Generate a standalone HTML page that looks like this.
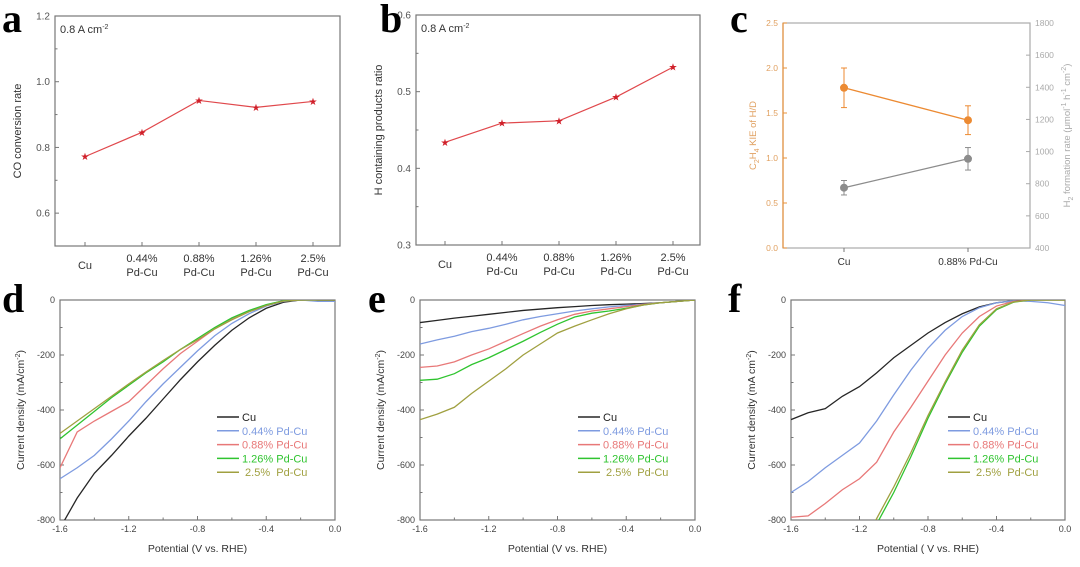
<!DOCTYPE html>
<html><head><meta charset="utf-8"><style>
html,body{margin:0;padding:0;background:#fff;width:1080px;height:567px;overflow:hidden}
svg{font-family:"Liberation Sans",sans-serif;display:block}
.pl{font-family:"Liberation Serif",serif;font-weight:bold;font-size:40px}
.pre{white-space:pre}
</style></head><body>
<svg id="fig" width="1080" height="567" viewBox="0 0 1080 567" overflow="hidden"></svg>
<script>
const catsAB = ["Cu","0.44%|Pd-Cu","0.88%|Pd-Cu","1.26%|Pd-Cu","2.5%|Pd-Cu"];
const coRate = [0.772,0.846,0.943,0.922,0.940];
const hRatio = [0.434,0.459,0.462,0.493,0.532];
const catsC = ["Cu","0.88% Pd-Cu"];
const kie = [1.78,1.42];
const kieErr = [0.22,0.16];
const h2Rate = [775,955];
const h2Err = [45,70];
const potentials = [-1.6,-1.5,-1.4,-1.3,-1.2,-1.1,-1.0,-0.9,-0.8,-0.7,-0.6,-0.5,-0.4,-0.3,-0.2,-0.1,0];
const seriesNames = ["Cu","0.44% Pd-Cu","0.88% Pd-Cu","1.26% Pd-Cu"," 2.5%  Pd-Cu"];
const dCu=[-830,-720,-630,-565,-495,-430,-360,-290,-225,-165,-110,-65,-30,-8,0,-2,-3];
const d044=[-650,-610,-565,-505,-440,-370,-305,-245,-185,-130,-85,-50,-22,-5,0,-5,-5];
const d088=[-610,-480,-440,-405,-370,-310,-250,-195,-150,-105,-70,-40,-18,-3,0,0,0];
const d126=[-505,-455,-405,-355,-310,-265,-225,-180,-140,-100,-65,-38,-17,-3,0,0,0];
const d25=[-485,-440,-395,-350,-305,-262,-220,-180,-145,-105,-72,-43,-20,-4,0,0,0];
const eCu=[-82,-74,-66,-59,-52,-45,-38,-33,-28,-24,-20,-17,-15,-13,-10,-5,0];
const e044=[-160,-145,-132,-115,-103,-88,-72,-60,-50,-40,-32,-25,-20,-15,-10,-5,0];
const e088=[-245,-240,-225,-200,-178,-150,-122,-95,-72,-52,-40,-32,-24,-16,-10,-5,0];
const e126=[-292,-288,-268,-235,-210,-180,-150,-118,-88,-62,-48,-40,-30,-18,-10,-5,0];
const e25=[-435,-415,-390,-340,-295,-250,-200,-160,-120,-95,-72,-50,-32,-18,-10,-5,0];
const fCu=[-435,-410,-395,-350,-315,-265,-210,-165,-120,-82,-50,-25,-10,-3,0,0,0];
const f044=[-700,-660,-610,-565,-520,-440,-345,-255,-175,-110,-60,-28,-10,-3,-5,-10,-20];
const f088=[-790,-785,-740,-690,-650,-590,-480,-390,-295,-200,-120,-60,-22,-5,0,0,0];
const f126=[-1400,-1280,-1160,-1040,-925,-815,-700,-570,-430,-305,-190,-95,-35,-8,0,0,0];
const f25=[-1390,-1270,-1150,-1030,-905,-795,-680,-555,-420,-298,-182,-90,-32,-7,0,0,0];
const yTicksLSV = [0,-200,-400,-600,-800];
const xTicksLSV = [-1.6,-1.2,-0.8,-0.4,0.0];
const colors = ["#262626","#7e9be0","#e87878","#2fc42f","#a0a040"];

const NS="http://www.w3.org/2000/svg";
const svg=document.getElementById('fig');
function el(tag,attrs,parent,text){const e=document.createElementNS(NS,tag);for(const k in attrs)e.setAttribute(k,attrs[k]);if(text!==undefined)e.textContent=text;(parent||svg).appendChild(e);return e;}

function frame(x0,y0,x1,y1,name){
  const g=el('g',{});
  
  
  const r=el('rect',{x:x0,y:y0,width:x1-x0,height:y1-y0,fill:'none',stroke:'#777','stroke-width':1.2},g);
  
  
  return g;
}
function panelLabel(t,x,y){const e=el('text',{x:x,y:y,class:'pl'},svg,t);
  
  }

function catPanel(x0,x1,y0,y1,vmin,vmax,ticks,fmt,vals,cx,ytitle,name,label,lx){
  const g=frame(x0,y0,x1,y1,name);
  const Y=v=>y1-(v-vmin)/(vmax-vmin)*(y1-y0);
  ticks.forEach(t=>{const y=Y(t);
    el('line',{x1:x0,x2:x0+4,y1:y,y2:y,stroke:'#777'},g);
    const tx=el('text',{x:x0-5,y:y+3.5,'font-size':10,fill:'#555','text-anchor':'end'},g,fmt(t));
    
    
  });
  for(let i=0;i<ticks.length-1;i++){const y=Y((ticks[i]+ticks[i+1])/2);el('line',{x1:x0,x2:x0+2.5,y1:y,y2:y,stroke:'#777'},g);}
  catsAB.forEach((c,i)=>{const x=cx[i];
    el('line',{x1:x,x2:x,y1:y1,y2:y1-4,stroke:'#777'},g);
    const parts=c.split('|');
    const tx=el('text',{x:x,y:parts.length>1?y1+16:y1+23,'font-size':11,fill:'#333','text-anchor':'middle'},g);
    
    
    parts.forEach((p,j)=>el('tspan',{x:x,dy:j?14:0},tx,p));
  });
  const pts=vals.map((v,i)=>cx[i]+','+Y(v)).join(' ');
  const pl=el('polyline',{points:pts,fill:'none',stroke:'#e0484c','stroke-width':1.2},g);
  
  
  vals.forEach((v,i)=>{const s=el('text',{x:cx[i],y:Y(v)+3.5,'font-size':10,fill:'#d0202a','text-anchor':'middle'},g,'★');
    
    });
  const yt=el('text',{transform:`translate(${x0-34},${(y0+y1)/2}) rotate(-90)`,'font-size':11,fill:'#333','text-anchor':'middle'},g,ytitle);
  
  
  const an=el('text',{x:x0+5,y:y0+17,'font-size':11,fill:'#333'},g);
  
  
  el('tspan',{},an,'0.8 A cm');el('tspan',{dy:-4,'font-size':7},an,'-2');
  panelLabel(label,lx,32);
}
catPanel(55,340,16,246,0.5,1.2,[0.6,0.8,1.0,1.2],t=>t.toFixed(1),coRate,[85,142,199,256,313],'CO conversion rate','panel-a','a',2);
catPanel(416,700,15,245,0.3,0.6,[0.3,0.4,0.5,0.6],t=>t.toFixed(1),hRatio,[445,502,559,616,673],'H containing products ratio','panel-b','b',380);

(function(){
  const x0=783,x1=1030,y0=23,y1=248;
  const g=frame(x0,y0,x1,y1,'panel-c');
  g.querySelector('rect').setAttribute('stroke','#aaa');
  el('line',{x1:x0,x2:x0,y1:y0,y2:y1,stroke:'#e8913a','stroke-width':1.2},g);
  const YL=v=>y1-v/2.5*(y1-y0);
  const YR=v=>y1-(v-400)/1400*(y1-y0);
  const cx=[844,968];
  [0,0.5,1.0,1.5,2.0,2.5].forEach(t=>{const y=YL(t);
    el('line',{x1:x0,x2:x0+4,y1:y,y2:y,stroke:'#e8913a'},g);
    const tx=el('text',{x:x0-5,y:y+3,'font-size':8.5,fill:'#e0a060','text-anchor':'end'},g,t.toFixed(1));
    
    });
  [400,600,800,1000,1200,1400,1600,1800].forEach(t=>{const y=YR(t);
    el('line',{x1:x1,x2:x1-4,y1:y,y2:y,stroke:'#aaa'},g);
    const tx=el('text',{x:x1+5,y:y+3,'font-size':8.5,fill:'#aaa'},g,String(t));
    
    });
  catsC.forEach((c,i)=>{el('line',{x1:cx[i],x2:cx[i],y1:y1,y2:y1+4,stroke:'#777'},g);
    const tx=el('text',{x:cx[i],y:y1+17,'font-size':10,fill:'#333','text-anchor':'middle'},g,c);
    
    });
  function series(vals,errs,Y,col,name){
    const pl=el('polyline',{points:vals.map((v,i)=>cx[i]+','+Y(v)).join(' '),fill:'none',stroke:col,'stroke-width':1.3},g);
    
    
    vals.forEach((v,i)=>{
      const a=Y(v-errs[i]),b=Y(v+errs[i]);
      el('line',{x1:cx[i],x2:cx[i],y1:a,y2:b,stroke:col},g);
      el('line',{x1:cx[i]-3,x2:cx[i]+3,y1:a,y2:a,stroke:col},g);
      el('line',{x1:cx[i]-3,x2:cx[i]+3,y1:b,y2:b,stroke:col},g);
      const c=el('circle',{cx:cx[i],cy:Y(v),r:4,fill:col},g);
      
      
    });
  }
  series(kie,kieErr,YL,'#ec8a32','kie');
  series(h2Rate,h2Err,YR,'#8c8c8c','h2-rate');
  const yl=el('text',{transform:`translate(${x0-27},${(y0+y1)/2}) rotate(-90)`,'font-size':9.5,fill:'#e0a060','text-anchor':'middle'},g);
  
  
  el('tspan',{},yl,'C');el('tspan',{'font-size':7,dy:3},yl,'2');el('tspan',{dy:-3},yl,'H');el('tspan',{'font-size':7,dy:3},yl,'4');el('tspan',{dy:-3},yl,' KIE of H/D');
  const yr=el('text',{transform:`translate(${x1+40},${(y0+y1)/2}) rotate(-90)`,'font-size':9.5,fill:'#aaa','text-anchor':'middle'},g);
  
  
  el('tspan',{},yr,'H');el('tspan',{'font-size':7,dy:3},yr,'2');el('tspan',{dy:-3},yr,' formation rate (μmol');el('tspan',{'font-size':7,dy:-4},yr,'-1');el('tspan',{dy:4},yr,' h');el('tspan',{'font-size':7,dy:-4},yr,'-1');el('tspan',{dy:4},yr,' cm');el('tspan',{'font-size':7,dy:-4},yr,'-2');el('tspan',{dy:4},yr,')');
  panelLabel('c',730,32);
})();

function lsvPanel(x0,x1,data,name,label,lx,legX,ytitle,xtitle){
  const y0=300,y1=520;
  const g=frame(x0,y0,x1,y1,name);
  const X=v=>x0+(v+1.6)/1.6*(x1-x0);
  const Y=v=>y0+(-v)/800*(y1-y0);
  const cid='clip-'+name;
  const cp=el('clipPath',{id:cid},g);el('rect',{x:x0,y:y0,width:x1-x0,height:y1-y0},cp);
  yTicksLSV.forEach(t=>{const y=Y(t);el('line',{x1:x0,x2:x0+4,y1:y,y2:y,stroke:'#777'},g);
    const tx=el('text',{x:x0-5,y:y+3,'font-size':9,fill:'#444','text-anchor':'end'},g,String(t));
    
    });
  for(let i=0;i<4;i++){const y=Y(yTicksLSV[i]-100);el('line',{x1:x0,x2:x0+2.5,y1:y,y2:y,stroke:'#777'},g);}
  xTicksLSV.forEach(t=>{const x=X(t);el('line',{x1:x,x2:x,y1:y1,y2:y1-4,stroke:'#777'},g);
    const tx=el('text',{x:x,y:y1+12,'font-size':9,fill:'#444','text-anchor':'middle'},g,t.toFixed(1));
    
    });
  for(let i=0;i<4;i++){const x=X(xTicksLSV[i]+0.2);el('line',{x1:x,x2:x,y1:y1,y2:y1-2.5,stroke:'#777'},g);}
  data.forEach((arr,si)=>{
    const pl=el('polyline',{points:arr.map((v,i)=>X(potentials[i])+','+Y(v)).join(' '),fill:'none',stroke:colors[si],'stroke-width':1.3,'clip-path':`url(#${cid})`},g);
    
    
    const ly=417+si*13.8;
    const ll=el('line',{x1:legX,x2:legX+22,y1:ly,y2:ly,stroke:colors[si],'stroke-width':1.5},g);
    
    
    const lt=el('text',{x:legX+25,y:ly+4,'font-size':11,fill:si==0?'#222':colors[si],class:'pre'},g,seriesNames[si]);
    
    
  });
  const yt=el('text',{transform:`translate(${x0-36},${(y0+y1)/2}) rotate(-90)`,'font-size':10.5,fill:'#333','text-anchor':'middle'},g);
  
  
  el('tspan',{},yt,ytitle[0]);el('tspan',{'font-size':7,dy:-4},yt,'-2');el('tspan',{dy:4},yt,')');
  const xt=el('text',{x:(x0+x1)/2,y:y1+32,'font-size':10.5,fill:'#333','text-anchor':'middle'},g,xtitle);
  
  
  panelLabel(label,lx,312);
}
lsvPanel(60,335,[dCu,d044,d088,d126,d25],'panel-d','d',2,217,['Current density (mA/cm'],'Potential (V vs. RHE)');
lsvPanel(420,695,[eCu,e044,e088,e126,e25],'panel-e','e',368,578,['Current density (mA/cm'],'Potential (V vs. RHE)');
lsvPanel(791,1065,[fCu,f044,f088,f126,f25],'panel-f','f',728,948,['Current density (mA cm'],'Potential ( V vs. RHE)');
</script>
</body></html>
